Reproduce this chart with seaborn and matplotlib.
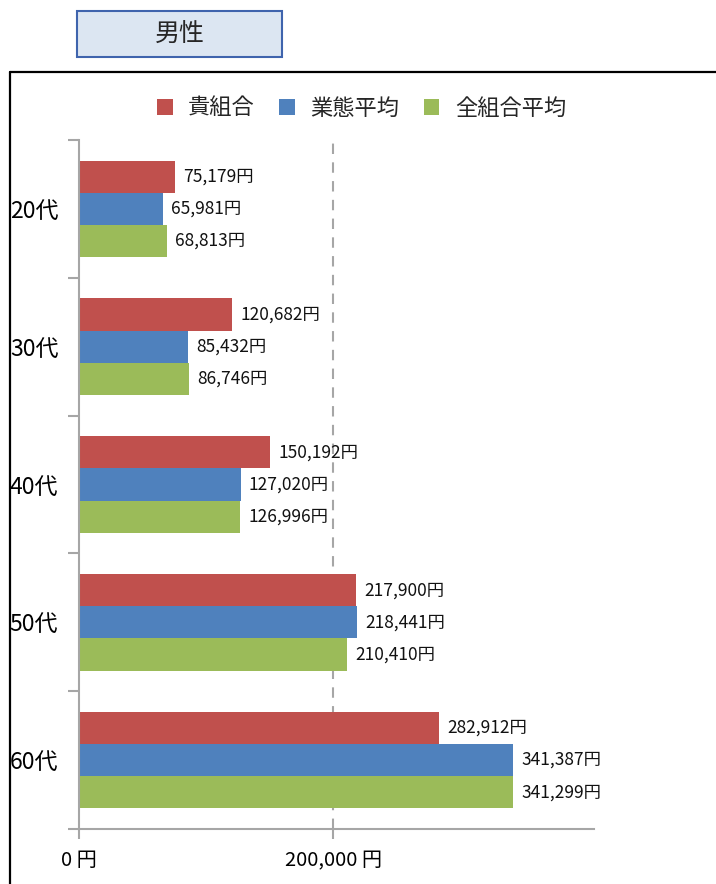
import pandas as pd
import seaborn as sns
import matplotlib.pyplot as plt
from matplotlib.patches import Rectangle, Patch
from matplotlib.lines import Line2D
from matplotlib.ticker import FixedLocator

# data
ages = ["20代", "30代", "40代", "50代", "60代"]
series = ["貴組合", "業態平均", "全組合平均"]
kumiai = [75179, 120682, 150192, 217900, 282912]
gyotai = [65981, 85432, 127020, 218441, 341387]
zen = [68813, 86746, 126996, 210410, 341299]
colors = ["#C0504D", "#4F81BD", "#9BBB59"]

df = pd.DataFrame({
    "age": ages * 3,
    "series": [series[0]] * 5 + [series[1]] * 5 + [series[2]] * 5,
    "value": kumiai + gyotai + zen,
})

sns.set_theme(style="white")
plt.rcParams["font.family"] = ["Noto Sans CJK JP", "DejaVu Sans"]

fig = plt.figure(figsize=(7.16, 8.84), dpi=100)
ax = fig.add_axes([79 / 716, 55 / 884, 515 / 716, 689 / 884])

sns.barplot(data=df, y="age", x="value", hue="series", order=ages,
            hue_order=series, palette=colors, width=0.7, saturation=1,
            orient="h", ax=ax, legend=False, linewidth=0)

for cont in ax.containers:
    vals = cont.datavalues
    ax.bar_label(cont, labels=[f"{v:,.0f}円" for v in vals], padding=6,
                 fontsize=12.5, color="#111111")

ax.set_xlim(0, 405000)
ax.set_ylim(4.5, -0.5)
ax.set_xlabel("")
ax.set_ylabel("")

# gridline
ax.axvline(200000, color="#a6a6a6", lw=1.5, ls=(0, (5, 4)), zorder=0)

# x ticks
ax.set_xticks([0, 200000])
ax.set_xticklabels(["0 円", "200,000 円"], fontsize=14.5)
ax.tick_params(axis="x", direction="out", length=7, width=1.5,
               color="#a6a6a6", pad=8, bottom=True, labelcolor="black")

# y ticks: labels at centres, marks at boundaries
ax.set_yticks(range(len(ages)))
ax.set_yticklabels(ages, fontsize=16.5)
ax.tick_params(axis="y", which="major", length=0, pad=15, labelcolor="black")
ax.yaxis.set_minor_locator(FixedLocator([-0.5, 0.5, 1.5, 2.5, 3.5, 4.5]))
ax.tick_params(axis="y", which="minor", direction="out", length=8, width=1.5,
               color="#a6a6a6", left=True)

for s in ["top", "right"]:
    ax.spines[s].set_visible(False)
for s in ["left", "bottom"]:
    ax.spines[s].set_color("#a6a6a6")
    ax.spines[s].set_linewidth(1.5)

# legend
handles = [Patch(facecolor=c, edgecolor="none", label=l) for c, l in zip(colors, series)]
fig.legend(handles=handles, loc="center", bbox_to_anchor=(0.505, 1 - 108 / 884),
           ncol=3, frameon=False, fontsize=16, handlelength=0.7, handleheight=0.7,
           handletextpad=0.7, columnspacing=1.1)

# outer frame
fig.add_artist(Line2D([10 / 716, 1], [1 - 72 / 884, 1 - 72 / 884], color="black", lw=1.6,
                      transform=fig.transFigure))
fig.add_artist(Line2D([10 / 716, 10 / 716], [0, 1 - 72 / 884], color="black", lw=1.6,
                      transform=fig.transFigure))

# title box
fig.add_artist(Rectangle((77 / 716, 1 - 57 / 884), 205 / 716, 46 / 884,
                         facecolor="#dce6f2", edgecolor="#3f64ad", lw=1.5,
                         transform=fig.transFigure))
fig.text(180 / 716, 1 - 35 / 884, "男性", fontsize=18, ha="center", va="center")

fig.savefig("out.png", dpi=100)
